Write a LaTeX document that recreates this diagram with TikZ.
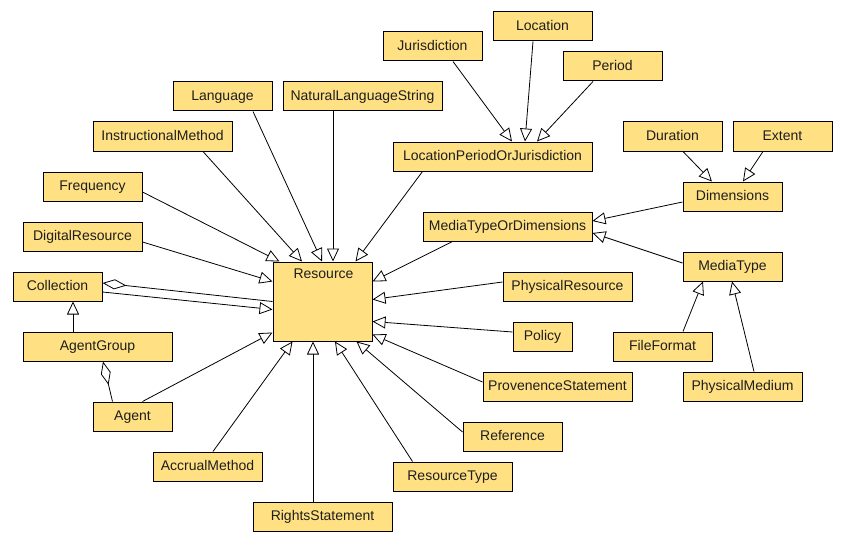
\documentclass[tikz,border=0pt]{standalone}
\usepackage{fontspec}
\setmainfont{Liberation Sans}
\usetikzlibrary{arrows.meta}
\definecolor{boxfill}{RGB}{255,224,130}
\definecolor{txt}{RGB}{30,30,30}
\tikzset{
  box/.style={draw=black, line width=1pt, fill=boxfill, inner sep=0pt, minimum height=29pt, text=txt, font=\fontsize{14}{16}\selectfont, text depth=0.25ex, text height=1.6ex},
  gen/.style={draw=black, line width=0.8pt, -{Triangle[length=13pt,width=12pt,fill=white]}},
  agg/.style={draw=black, line width=0.8pt, {Diamond[length=24pt,width=10pt,fill=white]}-},
}
\begin{document}
\begin{tikzpicture}[x=1pt,y=-1pt]
\useasboundingbox (0,0) rectangle (847,543);
% nodes
\node[box, minimum width=99pt] (jur) at (432.5,46.5) {Jurisdiction};
\node[box, minimum width=99pt] (loc) at (542.5,26.5) {Location};
\node[box, minimum width=99pt] (per) at (612.5,66.5) {Period};
\node[box, minimum width=99pt] (lang) at (222.5,96.5) {Language};
\node[box, minimum width=159pt] (nls) at (362.5,96.5) {NaturalLanguageString};
\node[box, minimum width=139pt] (instr) at (162.5,136.5) {InstructionalMethod};
\node[box, minimum width=199pt] (lpoj) at (492.5,156.5) {LocationPeriodOrJurisdiction};
\node[box, minimum width=99pt] (freq) at (92.5,186.5) {Frequency};
\node[box, minimum width=119pt] (digi) at (82.5,236.5) {DigitalResource};
\node[box, minimum width=99pt] (dur) at (672.5,136.5) {Duration};
\node[box, minimum width=99pt] (ext) at (782.5,136.5) {Extent};
\node[box, minimum width=99pt] (dim) at (732.5,196.5) {Dimensions};
\node[box, minimum width=169pt] (mtod) at (507.5,226.5) {MediaTypeOrDimensions};
\node[box, minimum width=99pt] (mt) at (732.5,266.5) {MediaType};
\node[box, minimum width=99pt, minimum height=79pt] (res) at (322.5,301.5) {};
\node[text=txt, font=\fontsize{14}{16}\selectfont, inner sep=0pt] (restxt) at (323.5,273.5) {Resource};
\node[box, minimum width=89pt] (coll) at (57.5,286.5) {Collection};
\node[box, minimum width=149pt] (ag) at (97.5,346.5) {AgentGroup};
\node[box, minimum width=79pt] (agent) at (132.5,416.5) {Agent};
\node[box, minimum width=109pt] (accr) at (207.5,466.5) {AccrualMethod};
\node[box, minimum width=139pt] (rights) at (322.5,516.5) {RightsStatement};
\node[box, minimum width=129pt] (physres) at (567.5,286.5) {PhysicalResource};
\node[box, minimum width=59pt] (policy) at (542.5,336.5) {Policy};
\node[box, minimum width=149pt] (prov) at (557.5,386.5) {ProvenenceStatement};
\node[box, minimum width=99pt] (ref) at (512.5,436.5) {Reference};
\node[box, minimum width=119pt] (rtype) at (452.5,476.5) {ResourceType};
\node[box, minimum width=99pt] (ff) at (662.5,346.5) {FileFormat};
\node[box, minimum width=119pt] (pm) at (742.5,386.5) {PhysicalMedium};
% edges to Resource
\draw[gen] ([xshift=30.5pt]lang.south) -- ([xshift=-0.5pt]res.north);
\draw[gen] ([xshift=-29.5pt]nls.south) -- ([xshift=10.5pt]res.north);
\draw[gen] ([xshift=40.5pt]instr.south) -- ([xshift=-20.5pt]res.north);
\draw[gen] ([yshift=-5.5pt]freq.east) -- ([xshift=7pt]res.north west);
\draw[gen] ([yshift=-5.5pt]digi.east) -- ([yshift=-20pt]res.north west);
\draw[gen] ([xshift=30pt]lpoj.south west) -- ([xshift=-17pt]res.north east);
\draw[gen] ([xshift=30pt]mtod.south west) -- ([yshift=-20pt]res.north east);
\draw[gen] ([yshift=4.5pt]physres.west) -- ([yshift=-38pt]res.north east);
\draw[gen] ([yshift=4.5pt]policy.west) -- ([yshift=-60pt]res.north east);
\draw[gen] ([yshift=4.5pt]prov.west) -- ([yshift=7pt]res.south east);
\draw[gen] ([yshift=4.5pt]ref.west) -- ([xshift=-16pt]res.south east);
\draw[gen] ([xshift=20pt]rtype.north west) -- ([xshift=12.5pt]res.south);
\draw[gen] ([xshift=-9.5pt]rights.north) -- ([xshift=-9.5pt]res.south);
\draw[gen] ([xshift=5.5pt]accr.north) -- ([xshift=20pt]res.south west);
\draw[gen] ([xshift=50pt]agent.north west) -- ([yshift=9pt]res.south west);
\draw[gen] ([yshift=-5.5pt]coll.east) -- ([yshift=-48pt]res.north west);
\draw[agg] ([yshift=3.5pt]coll.east) -- (res.west);
% other edges
\draw[gen] ([xshift=-24.5pt]ag.north) -- ([xshift=15.5pt]coll.south);
\draw[agg] ([xshift=5.5pt]ag.south) -- ([xshift=20pt]agent.north west);
\draw[gen] ([xshift=20.5pt]jur.south) -- ([xshift=19.5pt]lpoj.north);
\draw[gen] ([xshift=-9.5pt]loc.south) -- ([xshift=32.5pt]lpoj.north);
\draw[gen] ([xshift=-19.5pt]per.south) -- ([xshift=44.5pt]lpoj.north);
\draw[gen] ([xshift=10.5pt]dur.south) -- ([xshift=-20.5pt]dim.north);
\draw[gen] ([xshift=-19.5pt]ext.south) -- ([xshift=10.5pt]dim.north);
\draw[gen] ([yshift=-5.5pt]dim.west) -- ([yshift=5.5pt]mtod.east);
\draw[gen] ([yshift=3.5pt]mt.west) -- ([yshift=-6.5pt]mtod.east);
\draw[gen] ([xshift=20.5pt]ff.north) -- ([xshift=-29.5pt]mt.south);
\draw[gen] ([xshift=11.5pt]pm.north) -- ([xshift=-0.5pt]mt.south);
\end{tikzpicture}
\end{document}
